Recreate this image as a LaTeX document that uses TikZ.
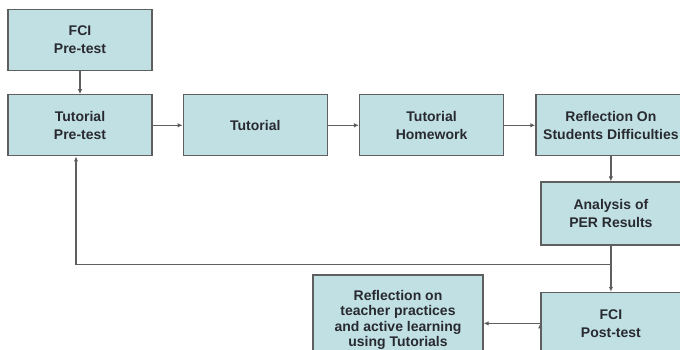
\documentclass[tikz,border=0pt]{standalone}
\usepackage{fontspec}
\newfontfamily\boxfont{Liberation Sans}
\usepackage{tikz}
\usetikzlibrary{arrows.meta,positioning,calc}

\definecolor{boxfill}{RGB}{192,224,228}
\definecolor{boxline}{RGB}{95,95,95}
\definecolor{boxtext}{RGB}{40,42,48}

\begin{document}
\begin{tikzpicture}[x=1pt, y=1pt, node distance=30pt and 30pt,
    stage/.style={draw=boxline, fill=boxfill, line width=1.3pt, text=boxtext,
        minimum width=144pt, minimum height=61pt, align=center,
        font=\boxfont\bfseries\fontsize{14}{18}\selectfont},
    link/.style={draw=boxline, line width=1.2pt, -{Latex[length=5pt,width=4.5pt]}}]
    \clip (0,0) rectangle (680,349);
    \useasboundingbox (0,0) rectangle (680,349);

    \node[stage] (fcipre) at (80,309) {FCI\\Pre-test};
    \node[stage, below=23pt of fcipre] (tutpre) {Tutorial\\Pre-test};
    \node[stage, right=of tutpre] (tut) {Tutorial};
    \node[stage, right=31pt of tut] (tuthw) {Tutorial\\Homework};
    \node[stage, right=31pt of tuthw, minimum width=150pt] (refl) {Reflection On\\Students Difficulties};
    \node[stage, below=25pt of refl, minimum width=140pt, minimum height=63pt] (per) {Analysis of\\PER Results};
    \node[stage, below=46pt of per, minimum width=140pt, minimum height=62pt] (fcipost) {FCI\\Post-test};
    \node[stage, minimum width=170pt, minimum height=90pt,
        font=\boxfont\bfseries\fontsize{14}{15.5}\selectfont] (teach) at (398,29)
        {Reflection on\\teacher practices\\and active learning\\using Tutorials};
    \coordinate (split) at ($(per.south)!0.4!(fcipost.north)$);
    \coordinate (back) at ([xshift=-4pt]tutpre.south);

    \path[link]
        (fcipre) edge (tutpre)
        (tutpre) edge (tut)
        (tut) edge (tuthw)
        (tuthw) edge (refl)
        (refl) edge (per)
        (per) edge (fcipost)
        (fcipost.west) edge (fcipost.west -| teach.east)
    ;
    \draw[link] (split) -| (back);
\end{tikzpicture}
\end{document}
